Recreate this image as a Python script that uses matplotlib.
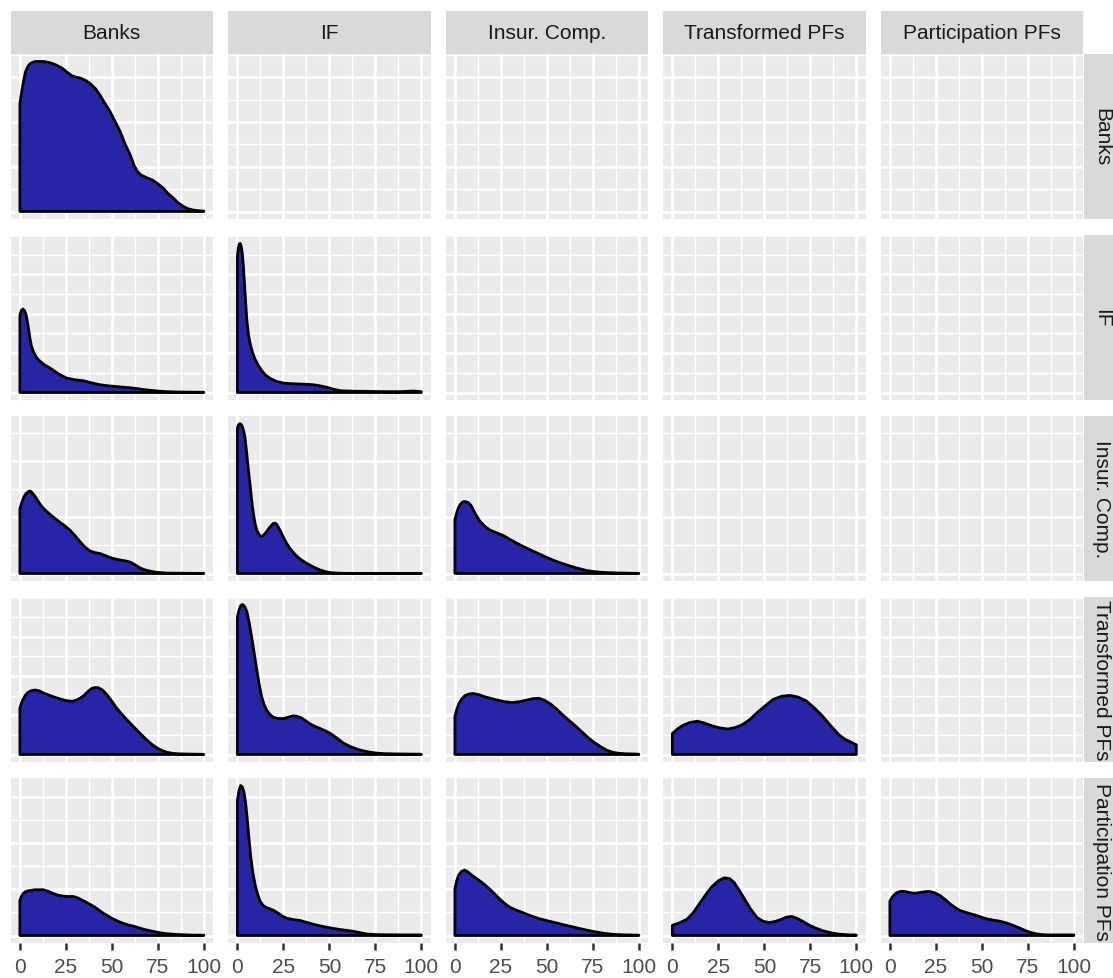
import matplotlib
matplotlib.use("Agg")
import matplotlib.pyplot as plt
import numpy as np

W, H = 1113, 979

groups = ["Banks", "IF", "Insur. Comp.", "Transformed PFs", "Participation PFs"]
x_ticks = [0, 25, 50, 75, 100]
x_minor = [12.5, 37.5, 62.5, 87.5]
# spacing of horizontal grid lines per row (row-normalised density units)
row_grid_step = [0.149, 0.132, 0.187, 0.131, 0.154]

# densities, normalised so that the row maximum is 1
bk_bk_x = [0, 1, 2, 3, 4.5, 5.5, 7, 8.5, 10, 13, 15, 17, 20, 23, 25.5, 28, 30.5, 33, 35.5, 38, 41, 43.5,
           46, 49, 51.5, 54.5, 57, 60, 62, 64, 66, 69, 72, 75, 78, 80.5, 83.5, 86, 89, 91.5, 94, 97, 100]
bk_bk_y = [0.72, 0.8, 0.87, 0.93, 0.97, 0.985, 0.995, 1.0, 1.0, 1.0, 0.995, 0.99, 0.975, 0.955, 0.93, 0.907,
           0.895, 0.889, 0.875, 0.855, 0.82, 0.777, 0.725, 0.667, 0.605, 0.534, 0.455, 0.377, 0.31, 0.265,
           0.242, 0.225, 0.21, 0.185, 0.155, 0.12, 0.089, 0.058, 0.033, 0.018, 0.01, 0.005, 0.003]

if_bk_x = [0, 0.8, 1.6, 2.5, 3.4, 4.4, 5.4, 6.3, 7.3, 9, 10.9, 13.5, 16.4, 21, 25.4, 30, 34.5, 39, 43.6,
           48, 52.6, 57, 61.7, 66, 70.8, 75, 79.8, 85, 90, 100]
if_bk_y = [0.52, 0.55, 0.56, 0.55, 0.52, 0.45, 0.37, 0.31, 0.275, 0.235, 0.21, 0.185, 0.164, 0.125, 0.097,
           0.085, 0.079, 0.065, 0.052, 0.045, 0.04, 0.035, 0.03, 0.022, 0.015, 0.01, 0.006, 0.004, 0.003, 0.002]
if_if_x = [0, 0.5, 1.0, 1.5, 2.0, 2.6, 3.3, 4.2, 5.1, 6, 6.9, 8.2, 9.6, 11.5, 13.3, 15.5, 17.8, 21, 25.1,
           29.6, 34.2, 37.8, 41.4, 45, 48.7, 52.3, 56, 63, 70.4, 80, 88.6, 92.3, 96, 100]
if_if_y = [0.91, 0.97, 0.995, 1.0, 0.985, 0.94, 0.84, 0.66, 0.49, 0.39, 0.33, 0.27, 0.223, 0.18, 0.145,
           0.115, 0.095, 0.075, 0.063, 0.059, 0.057, 0.055, 0.052, 0.045, 0.035, 0.022, 0.012, 0.009, 0.008,
           0.006, 0.006, 0.008, 0.01, 0.006]

ic_bk_x = [0, 0.9, 1.8, 3.1, 4.5, 5.5, 6.8, 8.2, 10, 11.8, 14.1, 16.4, 19.1, 21.9, 24.6, 27.3, 30, 32.7,
           35.4, 38.2, 40.9, 43.6, 46.3, 49.1, 51.8, 54.5, 57.3, 60, 62.7, 65.4, 68.1, 70.9, 73.6, 76.3,
           80, 85, 100]
ic_bk_y = [0.43, 0.47, 0.50, 0.53, 0.545, 0.55, 0.537, 0.515, 0.48, 0.448, 0.419, 0.394, 0.367, 0.34,
           0.316, 0.288, 0.252, 0.212, 0.176, 0.15, 0.139, 0.133, 0.12, 0.106, 0.097, 0.09, 0.084, 0.076,
           0.058, 0.036, 0.024, 0.015, 0.009, 0.006, 0.003, 0.002, 0.001]
ic_if_x = [0, 0.7, 1.4, 2.1, 2.8, 3.5, 4.1, 5, 5.9, 6.9, 7.8, 8.7, 9.6, 10.5, 11.4, 12.3, 13.2, 14.5, 15.9,
           17.7, 19.5, 20.5, 21.4, 23.2, 25, 26.8, 28.6, 31.3, 34, 36.8, 39.5, 42.2, 44.9, 47.7, 50.4, 55,
           60, 100]
ic_if_y = [0.97, 0.993, 1.0, 0.993, 0.975, 0.945, 0.91, 0.81, 0.70, 0.59, 0.485, 0.4, 0.333, 0.29, 0.267,
           0.252, 0.248, 0.258, 0.279, 0.31, 0.333, 0.336, 0.327, 0.288, 0.242, 0.2, 0.167, 0.128, 0.097,
           0.074, 0.055, 0.038, 0.024, 0.013, 0.006, 0.002, 0.001, 0.001]
ic_ic_x = [0, 1, 2, 3, 4, 5, 6, 7.3, 8.7, 11, 13.5, 16.2, 19, 22.5, 26, 30.7, 35.5, 40, 44.5, 49, 53.6,
           58, 62.6, 67, 71.7, 76, 80.8, 90, 100]
ic_ic_y = [0.36, 0.405, 0.44, 0.462, 0.475, 0.48, 0.478, 0.472, 0.455, 0.4, 0.35, 0.315, 0.29, 0.272,
           0.255, 0.222, 0.19, 0.163, 0.138, 0.112, 0.088, 0.068, 0.05, 0.034, 0.02, 0.012, 0.007, 0.003, 0.001]

tp_bk_x = [0, 0.9, 1.8, 3.1, 4.5, 6.3, 8.2, 10.5, 12.7, 15.5, 18.2, 20.9, 23.6, 26.4, 29.1, 31.8, 34.5,
           36.8, 39, 40.8, 42.6, 44.9, 47.2, 49.9, 52.6, 55.3, 58.1, 60.8, 63.5, 66.2, 69, 71.7, 74.4, 77.1,
           79.8, 83.5, 87.1, 100]
tp_bk_y = [0.309, 0.345, 0.37, 0.397, 0.415, 0.426, 0.43, 0.424, 0.41, 0.397, 0.385, 0.374, 0.364, 0.357,
           0.355, 0.368, 0.39, 0.418, 0.44, 0.446, 0.445, 0.43, 0.40, 0.357, 0.309, 0.27, 0.233, 0.198,
           0.164, 0.13, 0.097, 0.068, 0.045, 0.027, 0.015, 0.007, 0.004, 0.001]
tp_if_x = [0, 0.8, 1.5, 2.2, 2.9, 4, 5.1, 6.4, 7.8, 9.2, 10.5, 11.8, 13.2, 14.6, 16, 17.8, 19.6, 22, 25,
           28, 30.5, 32.3, 34.1, 36.8, 39.6, 42.3, 45, 47.7, 50.4, 54, 57.7, 61.3, 65, 68.6, 72.2, 75.9,
           79.5, 85, 100]
tp_if_y = [0.915, 0.96, 0.985, 0.997, 1.0, 0.985, 0.955, 0.88, 0.78, 0.67, 0.567, 0.47, 0.385, 0.33, 0.294,
           0.265, 0.248, 0.24, 0.239, 0.25, 0.258, 0.255, 0.248, 0.228, 0.203, 0.187, 0.173, 0.158, 0.142,
           0.11, 0.076, 0.053, 0.036, 0.024, 0.015, 0.009, 0.006, 0.004, 0.002]
tp_ic_x = [0, 1, 2, 3.6, 5.3, 7.5, 9.8, 13.2, 16.5, 19.9, 23.2, 27.1, 31, 35, 38.9, 42.3, 45.6, 49, 52.3,
           55.7, 59, 62.4, 65.8, 69.1, 72.4, 75.8, 79.2, 82.5, 85.9, 89.2, 92.6, 100]
tp_ic_y = [0.255, 0.3, 0.334, 0.368, 0.391, 0.403, 0.407, 0.398, 0.384, 0.373, 0.362, 0.352, 0.346, 0.352,
           0.362, 0.372, 0.375, 0.36, 0.334, 0.298, 0.26, 0.224, 0.188, 0.15, 0.113, 0.08, 0.052, 0.029,
           0.014, 0.008, 0.005, 0.002]
tp_tp_x = [0, 2.8, 5.6, 9.5, 13.5, 17.4, 21.3, 25.8, 30.3, 34.2, 38.1, 42, 46, 50.5, 54.9, 59.4, 63.9,
           68.3, 72.8, 77.2, 81.7, 86.2, 90.6, 94, 97.4, 100]
tp_tp_y = [0.14, 0.17, 0.194, 0.213, 0.222, 0.21, 0.192, 0.177, 0.17, 0.18, 0.199, 0.232, 0.278, 0.325,
           0.368, 0.388, 0.394, 0.383, 0.357, 0.31, 0.255, 0.19, 0.131, 0.1, 0.081, 0.065]

pp_bk_x = [0, 0.9, 1.8, 3.1, 4.5, 8.2, 12.7, 15.5, 18.2, 20.9, 23.6, 26.4, 29.1, 31.8, 34.5, 37.2, 40,
           42.7, 45.4, 48.1, 50.8, 53.5, 56.3, 59, 61.7, 64.5, 67.2, 69.9, 72.6, 76.2, 79.8, 83.5, 87.1,
           93, 100]
pp_bk_y = [0.235, 0.262, 0.28, 0.292, 0.298, 0.305, 0.305, 0.294, 0.28, 0.268, 0.262, 0.26, 0.26, 0.249,
           0.232, 0.214, 0.195, 0.172, 0.148, 0.128, 0.11, 0.094, 0.08, 0.07, 0.062, 0.052, 0.042, 0.034,
           0.027, 0.018, 0.012, 0.008, 0.006, 0.003, 0.002]
pp_if_x = [0, 0.9, 1.8, 2.7, 3.6, 4.5, 5.4, 6.3, 7.3, 8.4, 9.6, 10.9, 12.3, 14, 16, 17.8, 19.6, 22, 24.4,
           26.8, 30.4, 34, 37.6, 41.3, 45, 48.6, 52.2, 55.8, 59.4, 63, 66.6, 70.3, 75, 80, 90, 100]
pp_if_y = [0.9, 0.97, 1.0, 0.99, 0.955, 0.88, 0.77, 0.645, 0.52, 0.42, 0.34, 0.28, 0.23, 0.2, 0.185, 0.177,
           0.168, 0.15, 0.13, 0.115, 0.106, 0.1, 0.088, 0.075, 0.064, 0.055, 0.047, 0.04, 0.034, 0.028,
           0.019, 0.01, 0.006, 0.005, 0.004, 0.004]
pp_ic_x = [0, 1, 2, 3.6, 5.3, 7, 8.7, 10.9, 13.1, 15.9, 18.7, 21.5, 24.3, 27.1, 29.9, 33.2, 36.6, 41.1,
           45.6, 50, 54.5, 59, 63.5, 68, 72.4, 76.9, 81.4, 85.8, 90.3, 100]
pp_ic_y = [0.312, 0.365, 0.402, 0.427, 0.436, 0.425, 0.407, 0.387, 0.368, 0.342, 0.312, 0.278, 0.244,
           0.213, 0.188, 0.17, 0.154, 0.132, 0.113, 0.099, 0.086, 0.072, 0.059, 0.046, 0.034, 0.023, 0.014,
           0.008, 0.005, 0.002]
pp_tp_x = [0, 4, 7.9, 11.2, 14.6, 18, 21.3, 25, 28.1, 31, 33.6, 36.4, 39.2, 42.6, 46, 49.3, 52.6, 56,
           59.3, 62, 64.9, 67.7, 70.5, 74, 77.3, 81.7, 86.2, 90.6, 95.1, 100]
pp_tp_y = [0.068, 0.085, 0.108, 0.15, 0.21, 0.27, 0.323, 0.365, 0.384, 0.38, 0.353, 0.3, 0.244, 0.175,
           0.12, 0.095, 0.086, 0.094, 0.108, 0.122, 0.127, 0.115, 0.097, 0.072, 0.052, 0.032, 0.018, 0.009,
           0.005, 0.003]
pp_pp_x = [0, 1.4, 2.8, 4.6, 6.4, 8.2, 10, 11.8, 13.6, 15.8, 18, 19.9, 21.8, 24.5, 27.2, 30, 32.7, 35.4,
           38.1, 41.8, 45.4, 49, 52.6, 56.3, 59.9, 63.5, 67.1, 70.8, 74.4, 77.1, 79.8, 82.5, 85.3, 100]
pp_pp_y = [0.229, 0.258, 0.277, 0.29, 0.295, 0.293, 0.288, 0.284, 0.282, 0.285, 0.29, 0.293, 0.293, 0.284,
           0.267, 0.24, 0.211, 0.187, 0.167, 0.152, 0.14, 0.125, 0.111, 0.102, 0.095, 0.083, 0.067, 0.048,
           0.029, 0.018, 0.011, 0.006, 0.004, 0.004]

curves = {
    (0, 0): (bk_bk_x, bk_bk_y),
    (1, 0): (if_bk_x, if_bk_y), (1, 1): (if_if_x, if_if_y),
    (2, 0): (ic_bk_x, ic_bk_y), (2, 1): (ic_if_x, ic_if_y), (2, 2): (ic_ic_x, ic_ic_y),
    (3, 0): (tp_bk_x, tp_bk_y), (3, 1): (tp_if_x, tp_if_y), (3, 2): (tp_ic_x, tp_ic_y),
    (3, 3): (tp_tp_x, tp_tp_y),
    (4, 0): (pp_bk_x, pp_bk_y), (4, 1): (pp_if_x, pp_if_y), (4, 2): (pp_ic_x, pp_ic_y),
    (4, 3): (pp_tp_x, pp_tp_y), (4, 4): (pp_pp_x, pp_pp_y),
}

FILL = "#2525A6"
PANEL_BG = "#EBEBEB"
STRIP_BG = "#D9D9D9"
FONT = "Liberation Sans"

# layout in pixels
left0, col_step, pw = 10.7, 217.5, 202.3
top0, row_step, ph = 55, 181, 165
strip_h = 43


def rect(x, y, w, h):
    return [x / W, 1 - (y + h) / H, w / W, h / H]


fig = plt.figure(figsize=(W / 100, H / 100), dpi=100)
fig.patch.set_facecolor("white")

for r in range(5):
    for c in range(5):
        x0 = left0 + c * col_step
        y0 = top0 + r * row_step
        ax = fig.add_axes(rect(x0, y0, pw, ph))
        ax.set_facecolor(PANEL_BG)
        for s in ax.spines.values():
            s.set_visible(False)
        ax.set_xlim(-5, 105)
        ax.set_ylim(-0.05, 1.05)
        step = row_grid_step[r]
        ax.set_xticks(x_ticks)
        ax.set_xticks(x_minor, minor=True)
        ax.set_yticks(np.arange(0, 1.06, 2 * step))
        ax.set_yticks(np.arange(step, 1.06, 2 * step), minor=True)
        ax.grid(which="major", color="white", lw=1.9)
        ax.grid(which="minor", color="white", lw=0.95)
        ax.set_axisbelow(True)
        ax.tick_params(axis="y", which="both", length=0, labelleft=False)
        ax.tick_params(axis="x", which="minor", length=0)
        if r == 4:
            ax.tick_params(axis="x", which="major", length=4.7, width=1.8,
                           color="#333333", labelsize=15, labelcolor="#4D4D4D",
                           pad=5.5)
            for lab in ax.get_xticklabels():
                lab.set_fontfamily(FONT)
        else:
            ax.tick_params(axis="x", which="major", length=0, labelbottom=False)

        if (r, c) in curves:
            xs, ys = curves[(r, c)]
            px = [xs[0]] + list(xs) + [xs[-1]]
            py = [0] + list(ys) + [0]
            ax.fill(px, py, facecolor=FILL, edgecolor="black", lw=2.0,
                    joinstyle="round", zorder=3)

# top strips
for c, g in enumerate(groups):
    x0 = left0 + c * col_step
    sax = fig.add_axes(rect(x0, top0 - strip_h, pw, strip_h))
    sax.set_facecolor(STRIP_BG)
    sax.set_xticks([])
    sax.set_yticks([])
    for s in sax.spines.values():
        s.set_visible(False)
    sax.text(0.5, 0.5, g, ha="center", va="center", fontsize=15,
             color="#1A1A1A", family=FONT, transform=sax.transAxes)

# right strips (run past the image edge, as in the original)
for r, g in enumerate(groups):
    y0 = top0 + r * row_step
    sax = fig.add_axes(rect(1084, y0, strip_h, ph))
    sax.set_facecolor(STRIP_BG)
    sax.set_xticks([])
    sax.set_yticks([])
    for s in sax.spines.values():
        s.set_visible(False)
    fig.text(1102 / W, 1 - (y0 + ph / 2) / H, g, ha="center", va="center",
             rotation=-90, fontsize=15, color="#1A1A1A", family=FONT)

fig.savefig("out.png", dpi=100)
